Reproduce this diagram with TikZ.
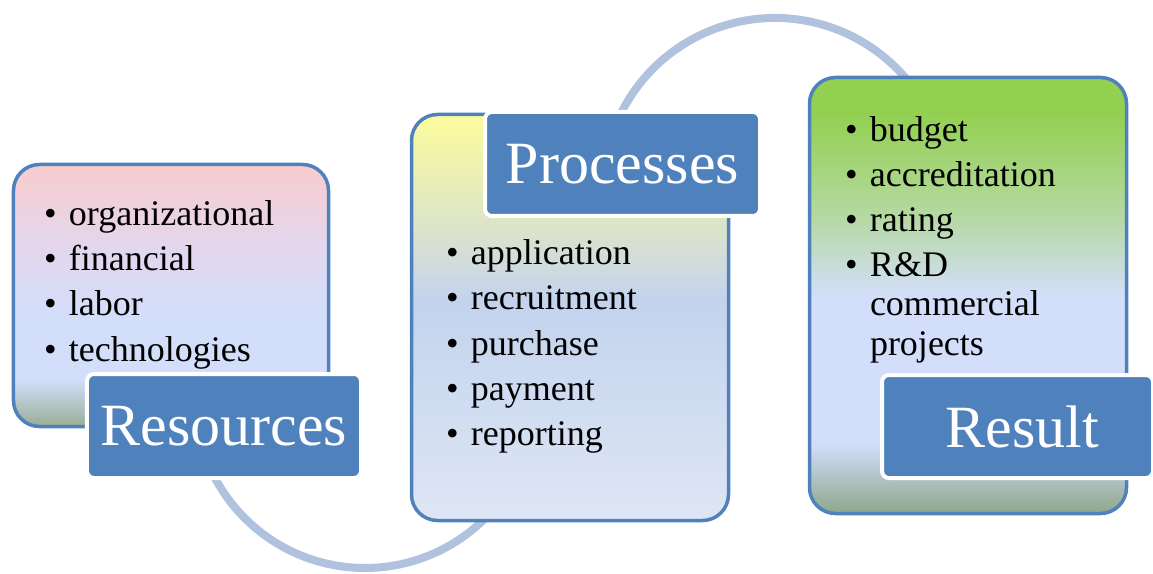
\documentclass[tikz,border=0pt]{standalone}
\usepackage{fontspec}
\setmainfont{Liberation Serif}
\definecolor{boxblue}{HTML}{4F81BD}
\definecolor{arcblue}{HTML}{B0C2DE}
\definecolor{lpink}{HTML}{F9CCCE}
\definecolor{llav}{HTML}{E4D6EC}
\definecolor{lblue}{HTML}{D3DEFA}
\definecolor{lgray}{HTML}{98AD96}
\definecolor{myellow}{HTML}{FCFC9C}
\definecolor{mgreen}{HTML}{D9E2CE}
\definecolor{mblue}{HTML}{C3D3EE}
\definecolor{mlight}{HTML}{DEE6F4}
\definecolor{rgreen}{HTML}{92D050}
\definecolor{rmid}{HTML}{B5D9A2}
\definecolor{rblue}{HTML}{D3DEFA}
\definecolor{rgray}{HTML}{8DA68C}
\pgfdeclareverticalshading{leftshade}{100bp}{color(0bp)=(lgray); color(25bp)=(lgray); color(34bp)=(lblue); color(47bp)=(lblue); color(60bp)=(llav); color(75bp)=(lpink); color(100bp)=(lpink)}
\pgfdeclareverticalshading{midshade}{100bp}{color(0bp)=(mlight); color(25bp)=(mlight); color(52bp)=(mblue); color(60bp)=(mgreen); color(75bp)=(myellow); color(100bp)=(myellow)}
\pgfdeclareverticalshading{rightshade}{100bp}{color(0bp)=(rgray); color(25bp)=(rgray); color(33bp)=(rblue); color(50bp)=(rblue); color(59bp)=(rmid); color(71bp)=(rgreen); color(75bp)=(rgreen); color(100bp)=(rgreen)}
\newcommand{\bul}{\makebox[25bp][l]{\textbullet}}
\tikzset{
  panel/.style={shape=rectangle, draw=boxblue, line width=3.5bp, rounded corners=26bp, shade, inner sep=0pt},
  titlebox/.style={shape=rectangle, fill=boxblue, draw=white, line width=4bp, rounded corners=7bp, text=white, inner sep=0pt, font=\fontsize{60bp}{60bp}\selectfont},
  listtext/.style={anchor=base west, inner sep=0pt, outer sep=0pt, font=\fontsize{36bp}{39bp}\selectfont},
  ring/.style={draw=arcblue, line width=8bp}
}
\begin{document}
\begin{tikzpicture}[x=1bp,y=-1bp]
\path[use as bounding box] (0,0) rectangle (1153,574);
% connecting arcs
\coordinate (cu) at (775,190);
\coordinate (cl) at (365,398);
\draw[ring] (cu) ++(-160:172) arc[start angle=-160, end angle=-30, radius=172];
\draw[ring] (cl) ++(155:170) arc[start angle=155, end angle=40, radius=170];
% panels
\node[panel, shading=leftshade, minimum width=315bp, minimum height=262bp] (res) at (171,295.5) {};
\node[panel, shading=midshade, minimum width=317bp, minimum height=406bp] (proc) at (570,317.5) {};
\node[panel, shading=rightshade, minimum width=317bp, minimum height=436bp] (resu) at (968,295.5) {};
% lists
\node[listtext] (resl) at (44,226) {\begin{tabular}[t]{@{}l@{}l@{}}
\bul & organizational\\[6bp]
\bul & financial\\[6bp]
\bul & labor\\[6bp]
\bul & technologies
\end{tabular}};
\node[listtext] (procl) at (446,265) {\begin{tabular}[t]{@{}l@{}l@{}}
\bul & application\\[6bp]
\bul & recruitment\\[6bp]
\bul & purchase\\[6bp]
\bul & payment\\[6bp]
\bul & reporting
\end{tabular}};
\node[listtext] (resul) at (845,142) {\begin{tabular}[t]{@{}l@{}l@{}}
\bul & budget\\[6bp]
\bul & accreditation\\[6bp]
\bul & rating\\[6bp]
\bul & R\&D\\
 & commercial\\
 & projects
\end{tabular}};
% title boxes
\node[titlebox, minimum width=274bp, minimum height=104bp] (rest) at (224,426) {Resources};
\node[titlebox, minimum width=275bp, minimum height=104bp] (proct) at (622.5,164) {Processes};
\node[titlebox, minimum width=271bp, minimum height=103bp] (resut) at (1017.5,426.5) {\hspace{10bp}Result};
\end{tikzpicture}
\end{document}
